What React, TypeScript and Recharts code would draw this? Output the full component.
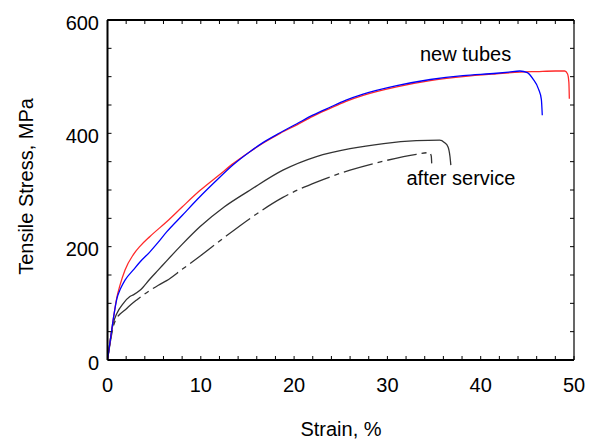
import React from 'react';
import { LineChart, Line, XAxis, YAxis, ReferenceLine } from 'recharts';

// ---- Data (strain %, tensile stress MPa) ----
const newTubeRed: { x: number; y: number }[] = [
  { x: 0, y: 0 }, { x: 0.3, y: 35 }, { x: 0.6, y: 70 }, { x: 1.0, y: 110 }, { x: 1.34, y: 132 },
  { x: 1.88, y: 159 }, { x: 2.77, y: 186 }, { x: 3.5, y: 201 }, { x: 4.55, y: 218 }, { x: 6.34, y: 244 },
  { x: 8, y: 270 }, { x: 9.9, y: 299 }, { x: 12, y: 327 }, { x: 13.5, y: 347 }, { x: 15.3, y: 368 },
  { x: 16.7, y: 383 }, { x: 18.5, y: 400 }, { x: 20.3, y: 415 }, { x: 22, y: 430 }, { x: 23.85, y: 444 },
  { x: 25.5, y: 456 }, { x: 27.4, y: 467 }, { x: 31, y: 482 }, { x: 34.6, y: 493 },
  { x: 38.1, y: 500 }, { x: 41.7, y: 505 }, { x: 44.2, y: 508 }, { x: 46, y: 509 }, { x: 48, y: 510 },
  { x: 49.0, y: 510 }, { x: 49.3, y: 505 }, { x: 49.45, y: 490 }, { x: 49.5, y: 461 },
];

const newTubeBlue: { x: number; y: number }[] = [
  { x: 0, y: 0 }, { x: 0.3, y: 35 }, { x: 0.6, y: 70 }, { x: 1.0, y: 108 }, { x: 1.4, y: 126 },
  { x: 1.88, y: 141 }, { x: 2.77, y: 159 }, { x: 3.48, y: 173 }, { x: 4.5, y: 190 }, { x: 5.4, y: 207 },
  { x: 6.34, y: 226 }, { x: 8, y: 255 }, { x: 9.9, y: 288 }, { x: 11.5, y: 314 }, { x: 13.5, y: 345 },
  { x: 15.3, y: 368 }, { x: 16.7, y: 384 }, { x: 18.5, y: 401 }, { x: 20.3, y: 417 }, { x: 22, y: 432 },
  { x: 23.85, y: 446 }, { x: 25.5, y: 458 }, { x: 27.4, y: 469 }, { x: 31, y: 484 },
  { x: 34.6, y: 495 }, { x: 38.1, y: 502 }, { x: 41.7, y: 506 }, { x: 43, y: 508 }, { x: 44.2, y: 510 },
  { x: 45, y: 507 }, { x: 45.6, y: 496 }, { x: 46.2, y: 478 }, { x: 46.5, y: 460 }, { x: 46.6, y: 432 },
];

const serviceSolid: { x: number; y: number }[] = [
  { x: 0, y: 0 }, { x: 0.62, y: 65 }, { x: 1.0, y: 82 }, { x: 1.7, y: 100 }, { x: 2.4, y: 112 },
  { x: 2.77, y: 115 }, { x: 3.48, y: 123 }, { x: 4.55, y: 143 }, { x: 5.45, y: 159 }, { x: 6.34, y: 175 },
  { x: 8, y: 204 }, { x: 9.9, y: 235 }, { x: 12.5, y: 270 }, { x: 15.3, y: 300 }, { x: 18.8, y: 335 },
  { x: 22.4, y: 359 }, { x: 26, y: 373 }, { x: 29.6, y: 382 }, { x: 33.1, y: 387 }, { x: 35.6, y: 388 },
  { x: 36.1, y: 384 }, { x: 36.5, y: 376 }, { x: 36.7, y: 360 }, { x: 36.8, y: 344 },
];

const serviceDashed: { x: number; y: number }[] = [
  { x: 0, y: 0 }, { x: 0.8, y: 68 }, { x: 2.06, y: 91 }, { x: 3.13, y: 106 }, { x: 5.45, y: 132 },
  { x: 6.34, y: 140 }, { x: 8, y: 160 }, { x: 9.9, y: 183 }, { x: 12.5, y: 216 }, { x: 15.3, y: 250 },
  { x: 18.8, y: 287 }, { x: 22.4, y: 314 }, { x: 26, y: 335 }, { x: 29.6, y: 351 }, { x: 33.1, y: 363 },
  { x: 34.5, y: 366 }, { x: 34.7, y: 360 }, { x: 34.75, y: 347 },
];

const xTicks = [0, 2, 4, 6, 8, 10, 12, 14, 16, 18, 20, 22, 24, 26, 28, 30, 32, 34, 36, 38, 40, 42, 44, 46, 48, 50];
const xTickLabels = [0, 10, 20, 30, 40, 50];
const yTicks = [0, 50, 100, 150, 200, 250, 300, 350, 400, 450, 500, 550, 600];
const yTickLabels = [0, 200, 400, 600];

const xTitle = 'Strain, %';
const yTitle = 'Tensile Stress, MPa';
const noteNew = 'new tubes';
const noteService = 'after service';

const FONT = '"Liberation Sans", Arial, sans-serif';
const tickStyle = { fontSize: 20, fill: '#000', fontFamily: FONT };
const TS = -4;

export default function App() {
  return (
    <div style={{ position: 'absolute', left: 0, top: 0, width: 594, height: 441, background: '#fff' }}>
      <LineChart width={594} height={441} margin={{ top: 0, right: 0, bottom: 0, left: 0 }}>
        <XAxis
          xAxisId="x"
          type="number"
          dataKey="x"
          domain={[0, 50]}
          ticks={xTicks}
          interval={0}
          allowDataOverflow
          height={81}
          tickSize={TS}
          tickMargin={22}
          tickFormatter={(v: number) => (xTickLabels.includes(v) ? String(v) : '')}
          tick={tickStyle}
          axisLine={{ stroke: '#000', strokeWidth: 2 }}
          tickLine={{ stroke: '#000', strokeWidth: 1 }}
        />
        <XAxis
          xAxisId="top"
          orientation="top"
          type="number"
          dataKey="x"
          domain={[0, 50]}
          ticks={xTicks}
          height={20}
          tickSize={TS}
          tickFormatter={() => ''}
          axisLine={{ stroke: '#000', strokeWidth: 2 }}
          tickLine={{ stroke: '#000', strokeWidth: 1 }}
        />
        <YAxis
          yAxisId="y"
          type="number"
          domain={[0, 600]}
          ticks={yTicks}
          interval={0}
          allowDataOverflow
          width={107.5}
          tickSize={TS}
          tickMargin={12.5}
          tickFormatter={(v: number) => (yTickLabels.includes(v) ? String(v) : '')}
          tick={{ ...tickStyle, dy: 2.5 }}
          axisLine={{ stroke: '#000', strokeWidth: 2 }}
          tickLine={{ stroke: '#000', strokeWidth: 1 }}
        />
        <YAxis
          yAxisId="right"
          orientation="right"
          type="number"
          domain={[0, 600]}
          ticks={yTicks}
          interval={0}
          allowDataOverflow
          width={20}
          tickSize={TS}
          tickFormatter={() => ''}
          tick={tickStyle}
          axisLine={{ stroke: '#000', strokeWidth: 1.2 }}
          tickLine={{ stroke: '#000', strokeWidth: 1 }}
        />
        <ReferenceLine xAxisId="x" yAxisId="y" y={600} stroke="#000" strokeWidth={2} ifOverflow="visible" />
        <Line xAxisId="top" yAxisId="right" data={newTubeRed} dataKey="y" type="monotoneX" dot={false}
          stroke="none" strokeWidth={0} isAnimationActive={false} legendType="none" />
        <Line xAxisId="x" yAxisId="y" data={serviceDashed} dataKey="y" type="monotoneX" dot={false}
          stroke="#333" strokeWidth={1.3} strokeDasharray="30 5 5 5" isAnimationActive={false} />
        <Line xAxisId="x" yAxisId="y" data={serviceSolid} dataKey="y" type="monotoneX" dot={false}
          stroke="#333" strokeWidth={1.3} isAnimationActive={false} />
        <Line xAxisId="x" yAxisId="y" data={newTubeRed} dataKey="y" type="monotoneX" dot={false}
          stroke="#ff2a2a" strokeWidth={1.3} isAnimationActive={false} />
        <Line xAxisId="x" yAxisId="y" data={newTubeBlue} dataKey="y" type="monotoneX" dot={false}
          stroke="#0000ff" strokeWidth={1.3} isAnimationActive={false} />
      </LineChart>
      <svg width={594} height={441} style={{ position: 'absolute', left: 0, top: 0, pointerEvents: 'none' }}>
        <g fontFamily={FONT} fontSize={20} fill="#000">
          <text x={341} y={435.5} textAnchor="middle">{xTitle}</text>
          <text x={33} y={186.5} textAnchor="middle" transform="rotate(-90 33 186.5)">{yTitle}</text>
          <text x={420} y={61}>{noteNew}</text>
          <text x={406.5} y={185}>{noteService}</text>
        </g>
      </svg>
    </div>
  );
}
